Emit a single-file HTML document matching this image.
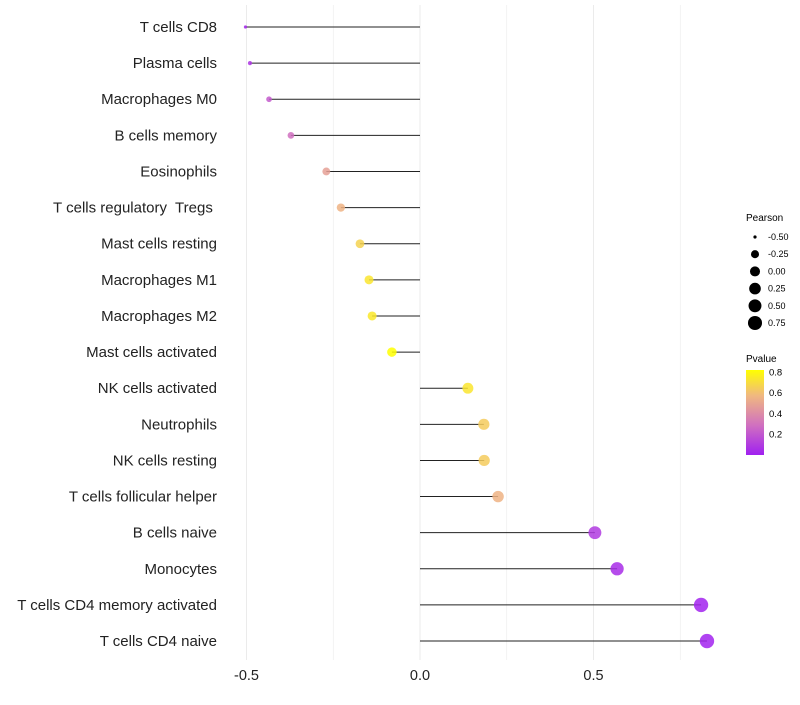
<!DOCTYPE html>
<html><head><meta charset="utf-8"><style>
body{margin:0;background:#fff;font-family:"Liberation Sans",sans-serif;}
svg text{font-family:"Liberation Sans",sans-serif;white-space:pre;}
</style></head><body>
<svg id="chart" width="800" height="700">
<defs><linearGradient id="pg" x1="0" y1="1" x2="0" y2="0">
<stop offset="0" stop-color="#A020F0"/><stop offset="0.35" stop-color="#D070C0"/><stop offset="0.7" stop-color="#F0B880"/><stop offset="1" stop-color="#FFFF00"/>
</linearGradient></defs>
<g id="grid"></g><g id="marks"></g><g id="labels"></g>
<g font-size="10">
<text x="746" y="221">Pearson</text>
<g id="sizeleg"></g>
<text x="746" y="362">Pvalue</text>
<rect x="746" y="370" width="18" height="85" fill="url(#pg)"/>
<g id="cleg" font-size="9.5"></g>
</g>
</svg>
<script>
const categories=["T cells CD8","Plasma cells","Macrophages M0","B cells memory","Eosinophils","T cells regulatory  Tregs ","Mast cells resting","Macrophages M1","Macrophages M2","Mast cells activated","NK cells activated","Neutrophils","NK cells resting","T cells follicular helper","B cells naive","Monocytes","T cells CD4 memory activated","T cells CD4 naive"];
const pearson=[-0.503,-0.49,-0.435,-0.372,-0.27,-0.228,-0.173,-0.147,-0.138,-0.081,0.138,0.184,0.185,0.225,0.504,0.568,0.81,0.827];
const pvalues=[0.03,0.08,0.22,0.3,0.5,0.58,0.68,0.74,0.75,0.9,0.74,0.66,0.66,0.58,0.1,0.05,0.01,0.01];
const xTicks=[-0.5,0,0.5];
const sizeLegend=[-0.5,-0.25,0,0.25,0.5,0.75];
const colorTicks=[0.8,0.6,0.4,0.2];
const NS="http://www.w3.org/2000/svg";
const x=v=>420+v*347;
const y=i=>27+i*36.12;
const r=v=>1.6+5.6*Math.sqrt(Math.max(0,v+0.5)/1.33);
const stops=[[0,[160,32,240]],[0.3,[208,112,192]],[0.6,[240,184,128]],[0.82,[255,255,0]]];
function col(p){p=Math.min(0.82,Math.max(0,p));for(let k=1;k<stops.length;k++){if(p<=stops[k][0]){const a=stops[k-1],b=stops[k],t=(p-a[0])/(b[0]-a[0]);return `rgb(${a[1].map((c,j)=>Math.round(c+(b[1][j]-c)*t)).join(",")})`;}}return "rgb(255,255,0)";}
function mk(tag,at,parent,txt){const e=document.createElementNS(NS,tag);for(const k in at)e.setAttribute(k,at[k]);if(txt!=null)e.textContent=txt;document.getElementById(parent).appendChild(e);return e;}
[-0.5,-0.25,0,0.25,0.5,0.75].forEach(v=>{const e=mk("line",{x1:x(v),x2:x(v),y1:5,y2:660,stroke:"#ebebeb","stroke-width":v*4%2===0?1:0.6},"grid");

});
xTicks.forEach(v=>{const e=mk("text",{x:x(v),y:680,"text-anchor":"middle","font-size":14.5,fill:"#222"},"labels",v===0?"0.0":String(v));

});
categories.forEach((c,i)=>{
const l=mk("line",{x1:x(0),x2:x(pearson[i]),y1:y(i),y2:y(i),stroke:"#222","stroke-width":1},"marks");


const d=mk("circle",{cx:x(pearson[i]),cy:y(i),r:r(pearson[i]),fill:col(pvalues[i]),"fill-opacity":0.85},"marks");


const t=mk("text",{x:217,y:y(i)+5,"text-anchor":"end","font-size":15,fill:"#222"},"labels",c);


});
sizeLegend.forEach((v,i)=>{const cy=237+i*17.2;
const c=mk("circle",{cx:755,cy:cy,r:r(v),fill:"#000"},"sizeleg");


const t=mk("text",{x:768,y:cy+3,"font-size":9},"sizeleg",v.toFixed(2));

});
colorTicks.forEach(v=>{const yy=455-v*103;
const t=mk("text",{x:769,y:yy+3},"cleg",String(v));

});
</script>
</body></html>
